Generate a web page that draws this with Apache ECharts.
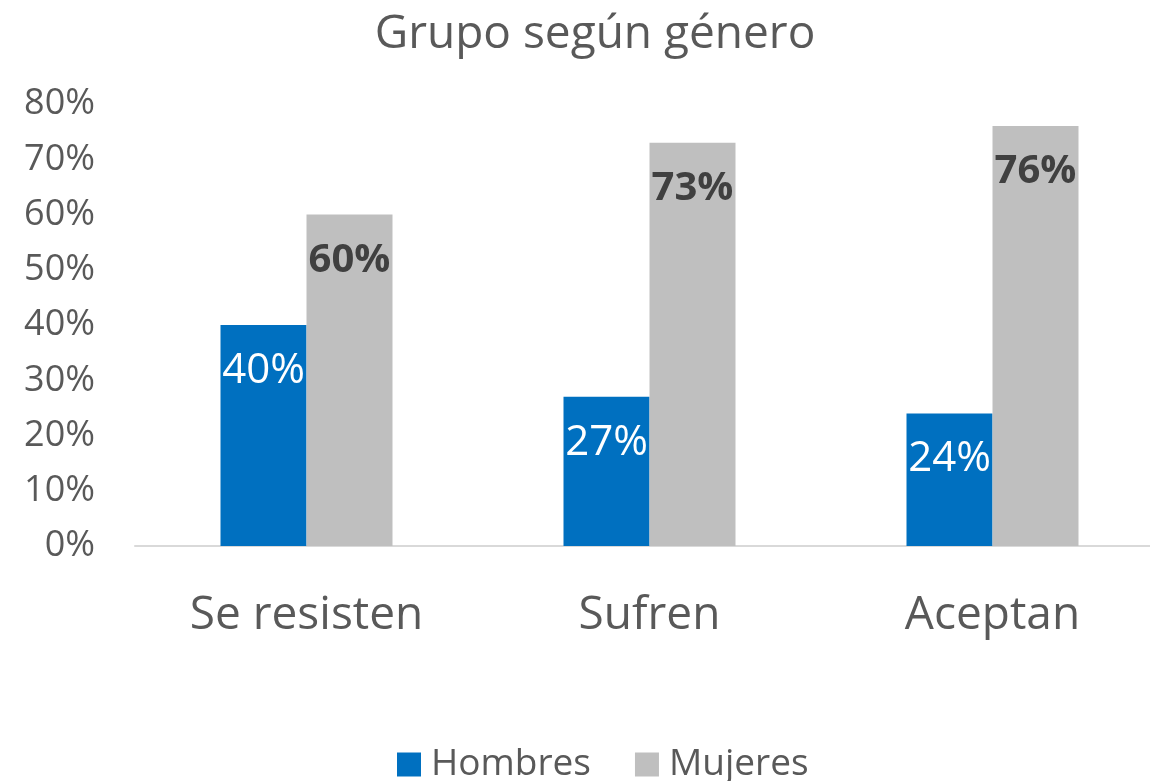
<!DOCTYPE html>
<html>
<head>
<meta charset="utf-8">
<script src="https://cdn.jsdelivr.net/npm/echarts@6/dist/echarts.min.js"></script>
<style>
html,body{margin:0;padding:0;background:#fff;overflow:hidden;}
/* the plot area runs slightly past the right edge of the page */
#chart{width:1164px;height:781px;}
</style>
</head>
<body>
<div id="chart"></div>
<script>
// Categories and series values (percent)
const categories = ['Se resisten', 'Sufren', 'Aceptan'];
const hombres = [40, 27, 24];
const mujeres = [60, 73, 76];
const yTicks = [0, 10, 20, 30, 40, 50, 60, 70, 80];

const FONT = '"Open Sans", sans-serif';
const chart = echarts.init(document.getElementById('chart'));
chart.setOption({
  animation: false,
  backgroundColor: '#fff',
  textStyle: { fontFamily: FONT },
  title: {
    text: 'Grupo según género',
    left: 590,
    textAlign: 'center',
    top: 7,
    textStyle: { fontFamily: FONT, fontSize: 46, fontWeight: 'normal', color: '#595959' }
  },
  legend: {
    top: 741,
    left: 392,
    itemWidth: 24,
    itemHeight: 24,
    itemGap: 44,
    icon: 'rect',
    textStyle: { fontFamily: FONT, fontSize: 37, color: '#595959', padding: [0, 0, 0, 5] },
    data: ['Hombres', 'Mujeres']
  },
  grid: { left: 135, top: 104, right: 0, height: 442, containLabel: false },
  xAxis: {
    type: 'category',
    data: categories,
    axisLine: { lineStyle: { color: '#D9D9D9', width: 2 } },
    axisTick: { show: false },
    axisLabel: { fontFamily: FONT, fontSize: 46, color: '#595959', margin: 47 }
  },
  yAxis: {
    type: 'value',
    min: yTicks[0],
    max: yTicks[yTicks.length - 1],
    interval: 10,
    splitLine: { show: false },
    axisLine: { show: false },
    axisTick: { show: false },
    axisLabel: { fontFamily: FONT, fontSize: 36, color: '#595959', margin: 40, formatter: '{value}%' }
  },
  series: [
    {
      name: 'Hombres',
      type: 'bar',
      data: hombres,
      barWidth: 86,
      barGap: '0%',
      itemStyle: { color: '#0070C0' },
      label: {
        show: true, position: 'insideTop', distance: 25,
        formatter: '{c}%', fontFamily: FONT, fontSize: 42, color: '#fff'
      }
    },
    {
      name: 'Mujeres',
      type: 'bar',
      data: mujeres,
      barWidth: 86,
      itemStyle: { color: '#BFBFBF' },
      label: {
        show: true, position: 'insideTop', distance: 26,
        formatter: '{c}%', fontFamily: FONT, fontSize: 40, fontWeight: 'bold', color: '#404040'
      }
    }
  ]
});
</script>
</body>
</html>
